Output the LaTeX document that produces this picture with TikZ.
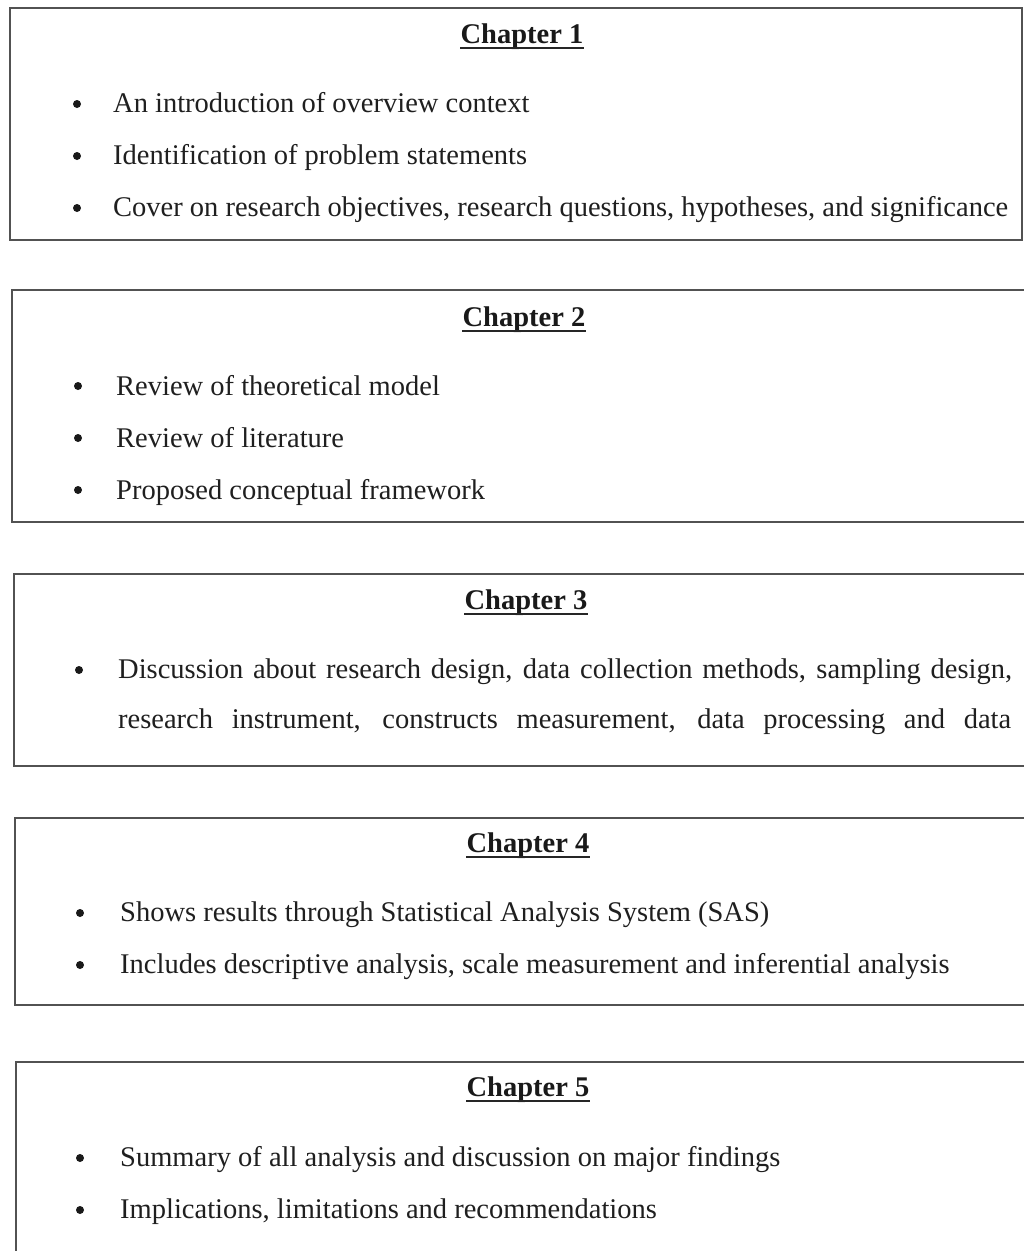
\documentclass[tikz,border=0pt]{standalone}
\usepackage{fontspec}
\setmainfont{Liberation Serif}
\begin{document}
\begin{tikzpicture}[x=1pt,y=-1pt,
  box/.style={draw=black!68, line width=2.8pt, fill=white},
  ttl/.style={anchor=base, inner sep=0pt, font=\fontsize{28.5}{34}\selectfont\bfseries, text=black!90},
  itm/.style={anchor=base west, inner sep=0pt, font=\fontsize{28.5}{34}\selectfont, text=black!88},
  bul/.style={circle, fill=black!90, inner sep=0pt, minimum size=8pt},
  uln/.style={line width=2pt, draw=black!85}]
\useasboundingbox (0,0) rectangle (1024,1251);
\clip (0,0) rectangle (1024,1251);
\fill[white] (0,0) rectangle (1024,1251);
% boxes
\draw[box] (10,8) rectangle (1022,240);
\draw[box] (12,290) rectangle (1030,522);
\draw[box] (14,574) rectangle (1034,766);
\draw[box] (15,818) rectangle (1036,1005);
\draw[box] (16,1062) rectangle (1038,1290);
% Chapter 1
\node[ttl] (t1) at (522,43) {Chapter 1};
\draw[uln] ([yshift=-4.5pt]t1.base west) -- ([yshift=-4.5pt]t1.base east);
\node[bul] (b11) at (77,104) {};
\node[itm] (i11) at (113,112) {An introduction of overview context};
\node[bul] (b12) at (77,156) {};
\node[itm] (i12) at (113,164) {Identification of problem statements};
\node[bul] (b13) at (77,208) {};
\node[itm] (i13) at (113,216) {Cover on research objectives, research questions, hypotheses, and significance};
% Chapter 2
\node[ttl] (t2) at (524,326) {Chapter 2};
\draw[uln] ([yshift=-4.5pt]t2.base west) -- ([yshift=-4.5pt]t2.base east);
\node[bul] (b21) at (78,386) {};
\node[itm] (i21) at (116,395) {Review of theoretical model};
\node[bul] (b22) at (78,438) {};
\node[itm] (i22) at (116,447) {Review of literature};
\node[bul] (b23) at (78,490) {};
\node[itm] (i23) at (116,499) {Proposed conceptual framework};
% Chapter 3
\node[ttl] (t3) at (526,609) {Chapter 3};
\draw[uln] ([yshift=-4.5pt]t3.base west) -- ([yshift=-4.5pt]t3.base east);
\node[bul] (b31) at (79,670) {};
\node[itm] (i31) at (118,678) {\makebox[894pt][s]{Discussion about research design, data collection methods, sampling design,}};
\node[itm] (i32) at (118,728) {\makebox[893pt][s]{research instrument, constructs measurement, data processing and data}};
% Chapter 4
\node[ttl] (t4) at (528,852) {Chapter 4};
\draw[uln] ([yshift=-4.5pt]t4.base west) -- ([yshift=-4.5pt]t4.base east);
\node[bul] (b41) at (80,913) {};
\node[itm] (i41) at (120,921) {Shows results through Statistical Analysis System (SAS)};
\node[bul] (b42) at (80,965) {};
\node[itm] (i42) at (120,973) {Includes descriptive analysis, scale measurement and inferential analysis};
% Chapter 5
\node[ttl] (t5) at (528,1096) {Chapter 5};
\draw[uln] ([yshift=-4.5pt]t5.base west) -- ([yshift=-4.5pt]t5.base east);
\node[bul] (b51) at (80,1158) {};
\node[itm] (i51) at (120,1166) {Summary of all analysis and discussion on major findings};
\node[bul] (b52) at (80,1210) {};
\node[itm] (i52) at (120,1218) {Implications, limitations and recommendations};
\end{tikzpicture}
\end{document}
